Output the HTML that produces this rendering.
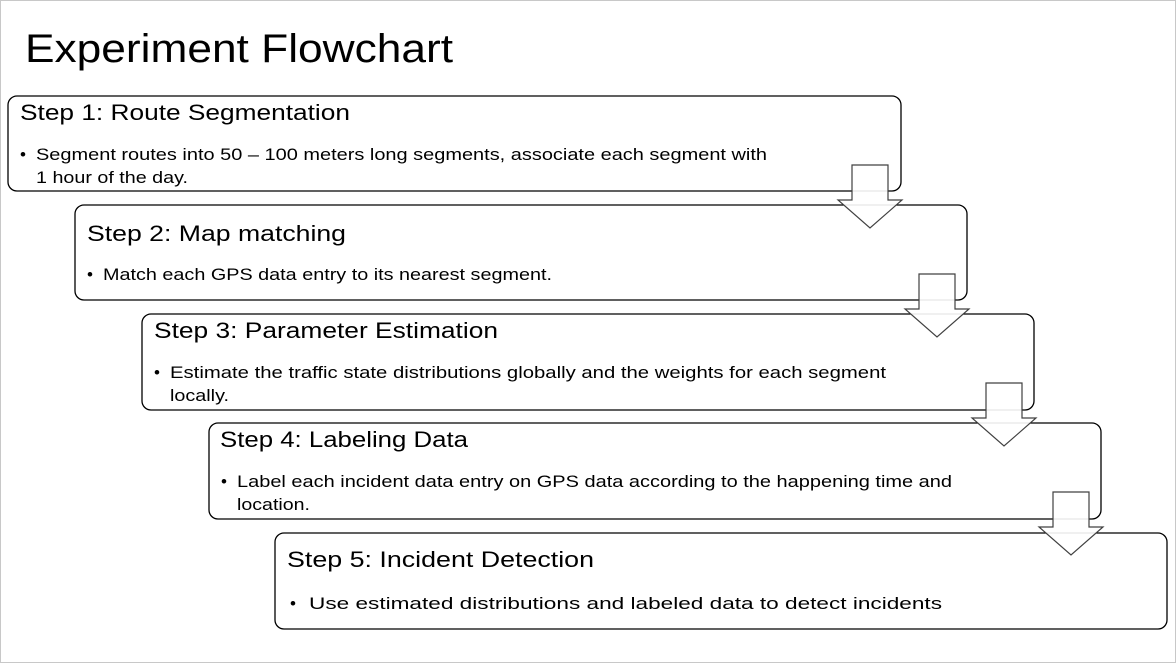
<!DOCTYPE html>
<html><head><meta charset="utf-8"><style>
html,body{margin:0;padding:0;background:#fff}
svg{display:block}
text{font-family:"Liberation Sans",sans-serif;fill:#000}
</style></head><body>
<svg width="1176" height="663" viewBox="0 0 1176 663" xmlns="http://www.w3.org/2000/svg">
<rect x="0.5" y="0.5" width="1175" height="662" fill="#fff" stroke="#c8c8c8"/>
<text x="25" y="62" font-size="40" textLength="428" lengthAdjust="spacingAndGlyphs">Experiment Flowchart</text>

<g fill="#fff" stroke="#000" stroke-width="1.3">
<rect x="8" y="96" width="893" height="95" rx="9"/>
<rect x="75" y="205" width="892" height="95" rx="9"/>
<rect x="142" y="314" width="892" height="96" rx="9"/>
<rect x="209" y="423" width="892" height="96" rx="9"/>
<rect x="275" y="533" width="892" height="96" rx="9"/>
</g>

<g font-size="22">
<text x="20" y="120" textLength="330" lengthAdjust="spacingAndGlyphs">Step 1: Route Segmentation</text>
<text x="87" y="241" textLength="259" lengthAdjust="spacingAndGlyphs">Step 2: Map matching</text>
<text x="154" y="338" textLength="344" lengthAdjust="spacingAndGlyphs">Step 3: Parameter Estimation</text>
<text x="220" y="447" textLength="248" lengthAdjust="spacingAndGlyphs">Step 4: Labeling Data</text>
<text x="287" y="567" textLength="307" lengthAdjust="spacingAndGlyphs">Step 5: Incident Detection</text>
</g>

<g font-size="17">
<text x="20" y="160">•</text>
<text x="36" y="160" textLength="731" lengthAdjust="spacingAndGlyphs">Segment routes into 50 – 100 meters long segments, associate each segment with</text>
<text x="36" y="183" textLength="152" lengthAdjust="spacingAndGlyphs">1 hour of the day.</text>
<text x="87" y="280">•</text>
<text x="103" y="280" textLength="449" lengthAdjust="spacingAndGlyphs">Match each GPS data entry to its nearest segment.</text>
<text x="154" y="378">•</text>
<text x="170" y="378" textLength="716" lengthAdjust="spacingAndGlyphs">Estimate the traffic state distributions globally and the weights for each segment</text>
<text x="170" y="401" textLength="59" lengthAdjust="spacingAndGlyphs">locally.</text>
<text x="221" y="487">•</text>
<text x="237" y="487" textLength="715" lengthAdjust="spacingAndGlyphs">Label each incident data entry on GPS data according to the happening time and</text>
<text x="237" y="510" textLength="73" lengthAdjust="spacingAndGlyphs">location.</text>
<text x="290" y="609">•</text>
<text x="309" y="609" textLength="633" lengthAdjust="spacingAndGlyphs">Use estimated distributions and labeled data to detect incidents</text>
</g>

<g fill="#fff" fill-opacity="0.9" stroke="#404040" stroke-width="1.2" stroke-linejoin="miter">
<polygon points="852,165 888,165 888,200 902,200 870,228 838,200 852,200"/>
<polygon points="919,274 955,274 955,309 969,309 937,337 905,309 919,309"/>
<polygon points="986,383 1022,383 1022,418 1036,418 1004,446 972,418 986,418"/>
<polygon points="1053,492 1089,492 1089,527 1103,527 1071,555 1039,527 1053,527"/>
</g>
</svg>
</body></html>
